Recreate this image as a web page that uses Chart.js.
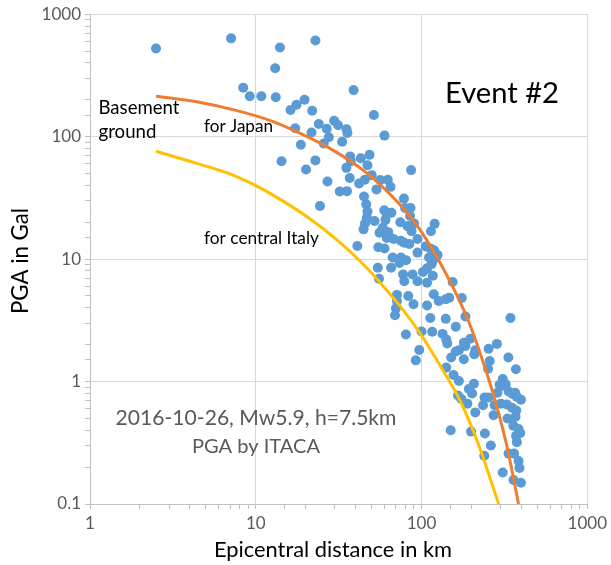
<!DOCTYPE html>
<html><head><meta charset="utf-8">
<script src="https://cdn.jsdelivr.net/npm/chart.js@4"></script>
<style>html,body{margin:0;padding:0;background:#fff}#wrap{width:611px;height:565px;position:relative}</style>
</head><body><div id="wrap"><canvas id="c" width="611" height="565"></canvas></div>
<script>
// Observed PGA (ITACA), epicentral distance in km and PGA in Gal
const distances = [2.5,7.1,14,13.1,8.4,9.2,10.8,13.2,16.2,17.6,17.3,14.3,18.7,19.7,22.9,21.9,24,21.7,29.7,31.4,26.8,27.6,25.7,35.3,35.7,33.2,22.9,20.1,37.1,37.5,35.2,27.1,36.9,32.1,35.5,24.4,38.9,
51.6,59.8,43,48.6,47.2,42,45.5,50,56.4,62.6,65,53.5,45,46.4,47.2,46.8,45.6,44.7,52.1,59.6,61.7,65.8,60.6,58.4,63,61.7,67.9,55.8,86.5,78.3,79.6,85.8,85.3,74.5,82.4,90.2,87.1,75.1,78.7,84.4,94.6,41,54.9,59.8,67,75.1,80.7,73.5,65.5,94.6,114,120,106,113,119,125,118,111,54.5,55.4,77.4,78.7,88.3,94.6,102,108,115,117,108,154,
71.1,71.1,70.1,69.2,83.2,89.5,108,118.5,127,140,113,140,80.5,100,116,134,141,96.9,92.4,147,175,184,344,161,143,180,197,184,168,161,211,208,254,285,258,334,151,180,141,252,371,
156,168,193,202,166,174,189,211,235,240,254,276,272,287,296,309,305,322,336,354,367,376,398,301,327,351,373,330,369,358,385,394,372,376,150,199,241,262,239,335,362,385,390,309,359,398,207];
const pga = [525,635,535,362,251,214,214,210,165,182,117,63,86,200,610,163,127,108,135,124,116,99,88,115,107,91,64,54,69,63,55.6,43,46,35.7,35.9,27.1,240,
150,102,66.7,71,58.5,41.4,44.4,48.5,44.2,44.4,38.9,37.1,32.4,28,24.5,21.7,19.5,17.5,20.5,25,23.5,23.9,20.9,18,16.6,14.9,14.6,16.4,53.3,31.2,26.1,26.1,22.5,20,18.6,19.5,16.9,14.1,13.6,13.3,14.6,12.8,12.5,12.2,10.3,10.3,9.8,9.3,8.5,11.3,16.9,19.4,12.7,12.2,11.8,10.8,9.9,10.3,8.5,6.9,7.5,6.6,7.5,6.6,7.85,8.4,9.1,7.3,6.4,6.5,
5.1,4.55,3.96,3.48,5.0,4.28,4.18,5.16,4.55,4.7,3.3,3.25,2.42,2.56,2.55,2.45,2.21,1.81,1.49,4.84,4.82,3.4,3.3,2.8,2.05,2.07,2.24,1.95,1.8,1.76,1.8,1.67,1.85,2.03,1.47,1.57,1.57,1.52,1.3,1.27,1.26,
1.13,1.01,0.87,0.8,0.77,0.72,0.66,0.56,0.64,0.74,0.74,0.64,0.53,0.81,0.94,1.05,0.92,0.95,0.83,0.79,0.81,0.75,0.71,0.66,0.65,0.61,0.58,0.5,0.515,0.435,0.41,0.38,0.36,0.32,0.4,0.39,0.377,0.3,0.248,0.258,0.258,0.224,0.197,0.181,0.157,0.149,0.96];

// Attenuation curves
const japanDist = [2.5,4.56,7.6,12.5,18.1,28.5,45.6,71.8,94.6,124.7,157.6,194,232,274,327,385];
const japanPga  = [214,191,164,134,108,79.1,51.8,29.2,18.6,10.2,5.6,3.01,1.53,0.75,0.299,0.1];
const italyDist = [2.5,4.56,7.09,9.73,12.5,20.8,31.4,42.5,54.5,74.8,98.6,124.7,171,216.5,292];
const italyPga  = [76,59.7,49.2,40.6,33.8,21.8,14.1,9.65,6.76,4.07,2.45,1.47,0.697,0.328,0.1];

const xTickLabels = [1,10,100,1000];
const yTickLabels = [0.1,1,10,100,1000];

const toXY = (xs, ys) => xs.map((x, i) => ({x: x, y: ys[i]}));
const findLabel = (v, list) => { for (const L of list) { if (Math.abs(v / L - 1) < 1e-6) return L; } return null; };

const FONT = 'Lato, "Open Sans", sans-serif';
function fitFont(ctx, text, width) {
  ctx.font = '20px ' + FONT;
  const w = ctx.measureText(text).width;
  return 20 * width / w;
}
const annotations = [
  {t: 'Basement', x: 98.5, y: 114, w: 81, align: 'left', color: '#000'},
  {t: 'ground', x: 98.5, y: 138, w: 58, align: 'left', color: '#000'},
  {t: 'for Japan', x: 204, y: 132, w: 69, align: 'left', color: '#000'},
  {t: 'for central Italy', x: 204, y: 244, w: 115, align: 'left', color: '#000'},
  {t: 'Event #2', x: 445, y: 103, w: 114, align: 'left', color: '#000'},
  {t: '2016-10-26, Mw5.9, h=7.5km', x: 256, y: 425, w: 281, align: 'center', color: '#595959'},
  {t: 'PGA by ITACA', x: 256, y: 453, w: 128, align: 'center', color: '#595959'},
  {t: 'Epicentral distance in km', x: 333, y: 557, w: 238, align: 'center', color: '#000'}
];
const textPlugin = {
  id: 'texts',
  afterDraw(chart) {
    const ctx = chart.ctx;
    ctx.save();
    ctx.textBaseline = 'alphabetic';
    for (const a of annotations) {
      const size = fitFont(ctx, a.t, a.w);
      ctx.font = size.toFixed(2) + 'px ' + FONT;
      ctx.fillStyle = a.color;
      ctx.textAlign = a.align;
      ctx.fillText(a.t, a.x, a.y);
    }
    // rotated y-axis title
    const yt = 'PGA in Gal';
    const size = fitFont(ctx, yt, 106);
    ctx.translate(28, 261);
    ctx.rotate(-Math.PI / 2);
    ctx.font = size.toFixed(2) + 'px ' + FONT;
    ctx.fillStyle = '#000';
    ctx.textAlign = 'center';
    ctx.fillText(yt, 0, 0);
    ctx.restore();
  }
};

const gridColor = (list) => (ctx) => (ctx.tick && findLabel(ctx.tick.value, list) !== null) ? '#d9d9d9' : 'rgba(0,0,0,0)';

new Chart(document.getElementById('c'), {
  type: 'scatter',
  data: {
    datasets: [
      {label: 'for Japan', data: toXY(japanDist, japanPga), showLine: true, borderColor: '#ed7d31', backgroundColor: '#ed7d31', borderWidth: 3, pointRadius: 0, cubicInterpolationMode: 'monotone'},
      {label: 'for central Italy', data: toXY(italyDist, italyPga), showLine: true, borderColor: '#ffc000', backgroundColor: '#ffc000', borderWidth: 3, pointRadius: 0, cubicInterpolationMode: 'monotone'},
      {label: 'PGA', data: toXY(distances, pga), showLine: false, pointRadius: 5, pointBorderWidth: 0, backgroundColor: '#5b9bd5', borderColor: '#5b9bd5'}
    ]
  },
  options: {
    responsive: false,
    animation: false,
    layout: {padding: {left: 0, right: 20, top: 14, bottom: 0}},
    plugins: {legend: {display: false}, tooltip: {enabled: false}},
    scales: {
      x: {
        type: 'logarithmic', position: 'bottom', min: 1, max: 1000,
        afterFit: (s) => { s.height = 61; },
        ticks: {autoSkip: false, maxRotation: 0, minRotation: 0, padding: 4, color: '#595959', font: {family: FONT, size: 17},
          callback: (v) => { const L = findLabel(v, xTickLabels); return L === null ? '' : String(L); }},
        grid: {color: gridColor(xTickLabels), tickColor: '#bfbfbf', tickLength: 5, lineWidth: 1},
        border: {color: '#bfbfbf', width: 1}
      },
      y: {
        type: 'logarithmic', position: 'left', min: 0.1, max: 1000,
        afterFit: (s) => { s.width = 90; },
        ticks: {autoSkip: false, padding: 4, color: '#595959', font: {family: FONT, size: 17},
          callback: (v) => { const L = findLabel(v, yTickLabels); return L === null ? '' : String(L); }},
        grid: {color: gridColor(yTickLabels), tickColor: '#bfbfbf', tickLength: 5, lineWidth: 1},
        border: {color: '#bfbfbf', width: 1}
      }
    }
  },
  plugins: [textPlugin]
});
</script>
</body></html>
